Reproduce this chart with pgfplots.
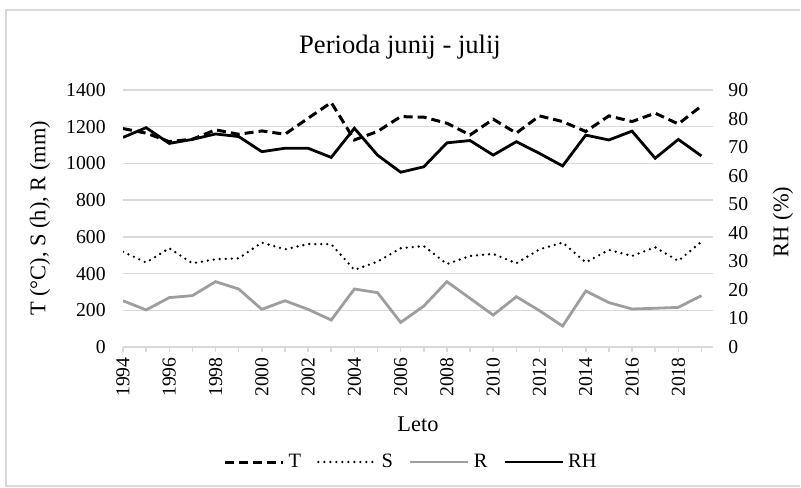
\documentclass[border=0pt]{standalone}
\usepackage{pgfplots}
\pgfplotsset{compat=1.18}
\usepackage{fontspec}
\setmainfont{Liberation Serif}

\definecolor{gridgray}{RGB}{217,217,217}
\definecolor{rgray}{RGB}{158,158,158}

\begin{document}
\begin{tikzpicture}
\pgfplotsset{
    common/.style={
        scale only axis, width=295pt, height=128.5pt,
        at={(0,0)}, anchor=south west,
        xmin=1994, xmax=2019.5,
        font=\fontsize{9.85}{11}\selectfont,
        /pgf/number format/assume math mode=true,
        /pgf/number format/1000 sep={},
    },
}
% frame
\draw[gridgray, line width=1pt] (338.5pt,168.5pt) -- (-58.5pt,168.5pt) -- (-58.5pt,-69.5pt) -- (338.5pt,-69.5pt);
\useasboundingbox (-61.5pt,-70pt) rectangle (339pt,173.5pt);

\begin{axis}[
    common,
    ymin=0, ymax=1400, ytick={0,200,...,1400},
    axis x line*=bottom, axis y line*=left,
    y axis line style={draw=none}, x axis line style={gridgray, line width=0.75pt},
    ymajorgrids, grid style={gridgray, line width=0.75pt},
    major y tick style={draw=none},
    xtick={1994,1996,...,2018}, minor xtick={1995,1997,...,2019},
    tick align=outside, major tick length=2.5pt, minor tick length=2.5pt,
    x tick style={gridgray, line width=0.75pt},
    xticklabel style={rotate=90, anchor=east, inner sep=0pt, xshift=-2.5pt},
    yticklabel style={anchor=east, inner sep=0pt, xshift=-6pt},
    legend columns=4,
    legend style={at={(axis description cs:0.49,-0.4475)}, anchor=center, draw=none,
        font=\fontsize{10.2}{11}\selectfont,
        /tikz/every even column/.append style={column sep=6pt}},
    legend image code/.code={\draw[#1] (0pt,0pt) -- (29pt,0pt);},
]
\addplot[black, line width=1.5pt, dash pattern=on 4.5pt off 2.5pt] coordinates {
(1994,1190) (1995,1165) (1996,1119) (1997,1132) (1998,1183) (1999,1159) (2000,1177)
(2001,1159) (2002,1246) (2003,1332) (2004,1128) (2005,1174) (2006,1255) (2007,1252)
(2008,1219) (2009,1155) (2010,1241) (2011,1165) (2012,1259) (2013,1228) (2014,1174)
(2015,1259) (2016,1228) (2017,1274) (2018,1215) (2019,1313)};
\addlegendentry{T}
\addplot[black, line width=1.3pt, line cap=round, dash pattern=on 0pt off 3pt] coordinates {
(1994,519) (1995,460) (1996,538) (1997,456) (1998,478) (1999,483) (2000,569)
(2001,532) (2002,561) (2003,560) (2004,420) (2005,465) (2006,538) (2007,550)
(2008,452) (2009,496) (2010,507) (2011,456) (2012,532) (2013,569) (2014,461)
(2015,529) (2016,496) (2017,543) (2018,469) (2019,574)};
\addlegendentry{S}
\addplot[rgray, line width=1.4pt] coordinates {
(1994,252) (1995,202) (1996,269) (1997,280) (1998,356) (1999,316) (2000,205)
(2001,252) (2002,205) (2003,147) (2004,316) (2005,296) (2006,134) (2007,223)
(2008,356) (2009,265) (2010,174) (2011,274) (2012,198) (2013,114) (2014,305)
(2015,242) (2016,207) (2017,211) (2018,216) (2019,280)};
\addlegendentry{R}
\addlegendimage{black, line width=1.4pt}
\addlegendentry{RH}
\end{axis}

\begin{axis}[
    common,
    ymin=0, ymax=90, ytick={0,10,...,90},
    axis x line=none, axis y line*=right,
    y axis line style={draw=none}, major y tick style={draw=none},
    yticklabel style={anchor=west, inner sep=0pt, xshift=7.5pt},
]
\addplot[black, line width=1.4pt] coordinates {
(1994,73.4) (1995,76.8) (1996,71.3) (1997,72.7) (1998,74.6) (1999,73.7) (2000,68.4)
(2001,69.6) (2002,69.6) (2003,66.4) (2004,76.6) (2005,67.2) (2006,61.2) (2007,63.1)
(2008,71.5) (2009,72.3) (2010,67.2) (2011,71.9) (2012,67.8) (2013,63.4) (2014,74.2)
(2015,72.5) (2016,75.6) (2017,66.1) (2018,72.7) (2019,66.9)};
\end{axis}

\node[font=\fontsize{13.3}{15}\selectfont] at (138.5pt,150pt) {Perioda junij - julij};
\node[font=\fontsize{11.2}{13}\selectfont, rotate=90] at (-41.5pt,64.25pt) {T (°C), S (h), R (mm)};
\node[font=\fontsize{11.2}{13}\selectfont, rotate=90] at (330pt,62.5pt) {RH (\%)};
\node[font=\fontsize{11.2}{13}\selectfont] at (147.5pt,-38.5pt) {Leto};
\end{tikzpicture}
\end{document}
